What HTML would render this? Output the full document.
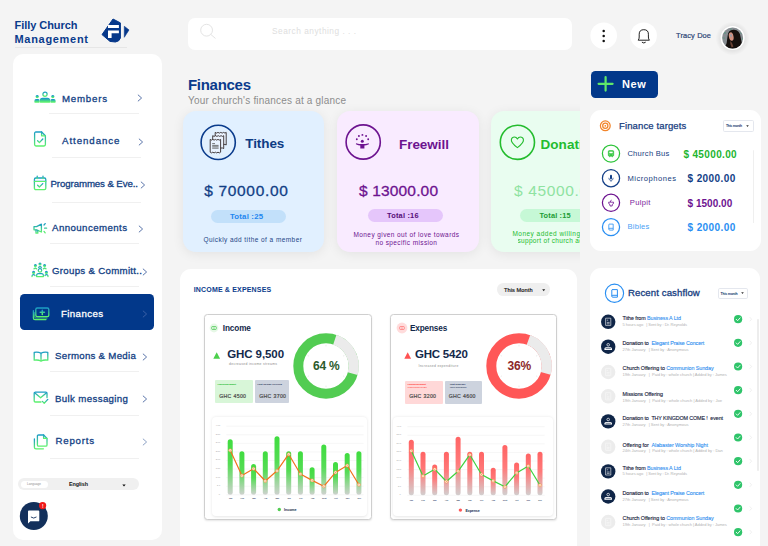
<!DOCTYPE html>
<html lang="en"><head><meta charset="utf-8"><title>Filly Church Management - Finances</title>
<style>
html,body{margin:0;padding:0}
body{width:768px;height:546px;overflow:hidden;position:relative;background:#f4f4f4;font-family:"Liberation Sans", sans-serif;}
#root{position:absolute;left:0;top:0;width:768px;height:546px;overflow:hidden}
#root span{position:absolute;white-space:nowrap;font-family:"Liberation Sans", sans-serif}
#root span span{position:static}
#root svg{position:absolute;overflow:visible}
</style></head><body><div id="root">
<svg width="0" height="0" style="left:0;top:0"><defs>
<linearGradient id="ig" x1="0" y1="0" x2="0" y2="1"><stop offset="0" stop-color="#1b9cc6"/><stop offset="1" stop-color="#5df26c"/></linearGradient>
<linearGradient id="gbar" x1="0" y1="0" x2="0" y2="1"><stop offset="0" stop-color="#3fdc3f"/><stop offset="0.45" stop-color="#55dc55"/><stop offset="1" stop-color="#cfd2cf"/></linearGradient>
<linearGradient id="rbar" x1="0" y1="0" x2="0" y2="1"><stop offset="0" stop-color="#ff6464"/><stop offset="0.45" stop-color="#ff7a7a"/><stop offset="1" stop-color="#d2cfcf"/></linearGradient>
</defs></svg>
<div style="position:absolute;left:14.5px;top:46.6px;width:112.50px;height:0.80px;background:#e6e6e6;border-radius:0px;"></div>
<svg style="left:96px;top:14px" width="40" height="32" viewBox="96 14 40 32">
<path d="M113 19 L120.4 22.9 L120.4 38 Q119.5 41.5 115.4 42 L110 41.4 L102 34.6 Z" fill="#06388a" stroke="#06388a" stroke-width="1" stroke-linejoin="round"/>
<path d="M108 25.1 H118.9 V27.9 H108 Z M108 30.5 H118.9 V33.2 H111.6 V37.9 H108 Z" fill="#fff"/>
<path d="M124.3 26.3 L129 29.9 L124.3 37.3 Z" fill="#06388a" stroke="#06388a" stroke-width="0.6" stroke-linejoin="round"/>
</svg>
<div style="position:absolute;left:13px;top:54px;width:149.00px;height:485.50px;background:#fff;border-radius:10px;"></div>
<svg style="left:34px;top:90.5px" width="22" height="12" viewBox="0 0 22 12" fill="none" stroke="url(#ig)" stroke-width="1.3" stroke-linecap="round" stroke-linejoin="round"><circle cx="11" cy="3.2" r="2.1"/><path d="M6.4 11 V9.6 Q6.4 7.4 8.6 7.4 H13.4 Q15.6 7.4 15.6 9.6 V11 Z" fill="url(#ig)"/>
<circle cx="3.2" cy="5.6" r="1" fill="url(#ig)"/><path d="M1 11 V10 Q1 8.6 2.4 8.6 H4 Q5 8.6 5 10 V11 Z" fill="url(#ig)"/>
<circle cx="18.8" cy="5.6" r="1" fill="url(#ig)"/><path d="M17 11 V10 Q17 8.6 18 8.6 H19.6 Q21 8.6 21 10 V11 Z" fill="url(#ig)"/></svg>
<svg style="left:136.5px;top:94px" width="6" height="8" viewBox="0 0 6 8"><path d="M1.2 1 L4.6 4 L1.2 7" fill="none" stroke="#4a66a0" stroke-width="0.9" stroke-linecap="round" stroke-linejoin="round"/></svg>
<div style="position:absolute;left:49px;top:112.7px;width:89.50px;height:0.70px;background:#f0f0f0;border-radius:0px;"></div>
<svg style="left:32.9px;top:131px" width="14" height="16" viewBox="0 0 14 16" fill="none" stroke="url(#ig)" stroke-width="1.3" stroke-linecap="round" stroke-linejoin="round"><path d="M1.6 2.4 Q1.6 1 3 1 H8.6 L12.4 4.8 V13.6 Q12.4 15 11 15 H3 Q1.6 15 1.6 13.6 Z"/><path d="M8.6 1 V4.8 H12.4" /><path d="M4.6 9.8 L6.4 11.6 L9.8 8"/></svg>
<svg style="left:138px;top:138px" width="6" height="8" viewBox="0 0 6 8"><path d="M1.2 1 L4.6 4 L1.2 7" fill="none" stroke="#4a66a0" stroke-width="0.9" stroke-linecap="round" stroke-linejoin="round"/></svg>
<div style="position:absolute;left:52px;top:157.3px;width:89.00px;height:0.70px;background:#f0f0f0;border-radius:0px;"></div>
<svg style="left:32.9px;top:175px" width="14" height="16" viewBox="0 0 14 16" fill="none" stroke="url(#ig)" stroke-width="1.3" stroke-linecap="round" stroke-linejoin="round"><rect x="1.4" y="3" width="11.4" height="11.6" rx="1.4"/><path d="M1.4 6.4 L12.8 6.42"/><path d="M4.2 1.2 V3.6 M10 1.2 V3.6" /><path d="M4.6 10.2 L6.4 12 L9.8 8.6"/></svg>
<svg style="left:140px;top:181px" width="6" height="8" viewBox="0 0 6 8"><path d="M1.2 1 L4.6 4 L1.2 7" fill="none" stroke="#4a66a0" stroke-width="0.9" stroke-linecap="round" stroke-linejoin="round"/></svg>
<div style="position:absolute;left:52px;top:201.7px;width:89.00px;height:0.70px;background:#f0f0f0;border-radius:0px;"></div>
<svg style="left:32.5px;top:221.5px" width="15" height="13" viewBox="0 0 15 13" fill="none" stroke="url(#ig)" stroke-width="1.3" stroke-linecap="round" stroke-linejoin="round"><path d="M1 4.6 H3.6 L8.4 2.2 V10 L3.6 7.8 H1 Z"/><path d="M3 8 V11.2 H4.8 V8.4"/><path d="M11 3 L12.2 1.6 M11.6 6.2 H13.6 M11 9.4 L12.2 10.8" /></svg>
<svg style="left:138.2px;top:224.6px" width="6" height="8" viewBox="0 0 6 8"><path d="M1.2 1 L4.6 4 L1.2 7" fill="none" stroke="#4a66a0" stroke-width="0.9" stroke-linecap="round" stroke-linejoin="round"/></svg>
<div style="position:absolute;left:49.5px;top:243.2px;width:89.50px;height:0.70px;background:#f0f0f0;border-radius:0px;"></div>
<svg style="left:31px;top:262px" width="18" height="16" viewBox="0 0 18 16" fill="none" stroke="url(#ig)" stroke-width="1.3" stroke-linecap="round" stroke-linejoin="round"><circle cx="9" cy="8.4" r="1.7"/><path d="M5.6 14.6 V13.6 Q5.6 11.6 7.6 11.6 H10.4 Q12.4 11.6 12.4 13.6 V14.6 Z"/>
<circle cx="9" cy="2" r="0.9" fill="url(#ig)"/><circle cx="4.4" cy="3.6" r="0.9" fill="url(#ig)"/><circle cx="13.6" cy="3.6" r="0.9" fill="url(#ig)"/>
<path d="M7.6 5.4 Q9 4 10.4 5.4 M3 6.8 Q4.4 5.6 5.6 6.8 M12.4 6.8 Q13.6 5.6 15 6.8"/>
<circle cx="2.6" cy="10.4" r="0.9" fill="url(#ig)"/><circle cx="15.4" cy="10.4" r="0.9" fill="url(#ig)"/><path d="M1 14.6 Q1 12.6 2.6 12.6 Q3.8 12.6 4 13.6 M17 14.6 Q17 12.6 15.4 12.6 Q14.2 12.6 14 13.6"/></svg>
<svg style="left:142.4px;top:267.5px" width="6" height="8" viewBox="0 0 6 8"><path d="M1.2 1 L4.6 4 L1.2 7" fill="none" stroke="#4a66a0" stroke-width="0.9" stroke-linecap="round" stroke-linejoin="round"/></svg>
<div style="position:absolute;left:49.5px;top:286.1px;width:89.50px;height:0.70px;background:#f0f0f0;border-radius:0px;"></div>
<div style="position:absolute;left:20px;top:294.4px;width:134.00px;height:35.40px;background:#02388a;border-radius:4.5px;"></div>
<svg style="left:32px;top:306.6px" width="18" height="15" viewBox="0 0 18 15" fill="none" stroke="url(#ig)" stroke-width="1.3" stroke-linecap="round" stroke-linejoin="round"><rect x="3.8" y="1" width="13" height="8.6" rx="1.4"/><path d="M8.2 5.3 H12.4 M10.3 3.2 V7.4" stroke-width="1.5"/><path d="M1.4 3.6 V11 Q1.4 12.6 3 12.6 H14" /><path d="M2.6 5.4 V9.8 Q2.6 11 3.8 11 H15" stroke-width="0.7"/></svg>
<svg style="left:142px;top:310.2px" width="6" height="8" viewBox="0 0 6 8"><path d="M1.2 1 L4.6 4 L1.2 7" fill="none" stroke="#3f63a8" stroke-width="0.9" stroke-linecap="round" stroke-linejoin="round"/></svg>
<svg style="left:32.5px;top:350.5px" width="16" height="11" viewBox="0 0 16 11" fill="none" stroke="url(#ig)" stroke-width="1.3" stroke-linecap="round" stroke-linejoin="round"><path d="M8 2.2 Q5 0.6 1.2 1.4 V9.2 Q5 8.6 8 10 Q11 8.6 14.8 9.2 V1.4 Q11 0.6 8 2.2 Z"/><path d="M8 2.2 L8.02 10"/></svg>
<svg style="left:142.4px;top:352.9px" width="6" height="8" viewBox="0 0 6 8"><path d="M1.2 1 L4.6 4 L1.2 7" fill="none" stroke="#4a66a0" stroke-width="0.9" stroke-linecap="round" stroke-linejoin="round"/></svg>
<div style="position:absolute;left:49.5px;top:371.2px;width:89.50px;height:0.70px;background:#f0f0f0;border-radius:0px;"></div>
<svg style="left:33px;top:391px" width="16" height="14" viewBox="0 0 16 14" fill="none" stroke="url(#ig)" stroke-width="1.3" stroke-linecap="round" stroke-linejoin="round"><path d="M8 11 H2.4 Q1.2 11 1.2 9.8 V2.4 Q1.2 1.2 2.4 1.2 H12.8 Q14 1.2 14 2.4 V6.6"/><path d="M1.6 1.8 L7.6 6.8 L13.6 1.8"/><path d="M9.4 10.4 L11.2 12.2 L14.8 8.4"/></svg>
<svg style="left:142.4px;top:395.2px" width="6" height="8" viewBox="0 0 6 8"><path d="M1.2 1 L4.6 4 L1.2 7" fill="none" stroke="#4a66a0" stroke-width="0.9" stroke-linecap="round" stroke-linejoin="round"/></svg>
<div style="position:absolute;left:49.5px;top:414.7px;width:89.50px;height:0.70px;background:#f0f0f0;border-radius:0px;"></div>
<svg style="left:33px;top:433.5px" width="16" height="16" viewBox="0 0 16 16" fill="none" stroke="url(#ig)" stroke-width="1.3" stroke-linecap="round" stroke-linejoin="round"><path d="M4.4 2.2 Q4.4 1 5.6 1 H10.6 L14 4.4 V11 Q14 12.2 12.8 12.2 H5.6 Q4.4 12.2 4.4 11 Z"/><path d="M10.6 1 V4.4 H14"/><path d="M1.4 5 V13.2 Q1.4 14.8 3 14.8 H10.4"/></svg>
<svg style="left:142.4px;top:437.9px" width="6" height="8" viewBox="0 0 6 8"><path d="M1.2 1 L4.6 4 L1.2 7" fill="none" stroke="#8096bd" stroke-width="0.9" stroke-linecap="round" stroke-linejoin="round"/></svg>
<div style="position:absolute;left:49.5px;top:457.7px;width:89.50px;height:0.70px;background:#f0f0f0;border-radius:0px;"></div>
<div style="position:absolute;left:18px;top:478px;width:121.00px;height:12.40px;background:#f0f0f0;border-radius:6.2px;"></div>
<div style="position:absolute;left:21px;top:480.5px;width:27.00px;height:7.30px;background:#ffffff;border-radius:3.7px;"></div>
<svg style="left:121.8px;top:483.6px" width="4" height="3" viewBox="0 0 4 3"><path d="M0.3 0.4 H3.7 L2 2.6 Z" fill="#111"/></svg>
<svg style="left:19px;top:501px" width="30" height="30" viewBox="19 501 30 30">
<circle cx="33.8" cy="516" r="14" fill="#13305b"/>
<path d="M28 511.4 Q28 510.5 28.9 510.5 H38.4 Q39.3 510.5 39.3 511.4 V520.4 Q39.3 521.3 38.4 521.3 H30.4 L28 523.4 Z" fill="#fff"/>
<path d="M31.2 517.2 Q33.7 519.2 36.2 517.2" fill="none" stroke="#13305b" stroke-width="0.9" stroke-linecap="round"/>
<circle cx="42.6" cy="505.6" r="3.6" fill="#f01818"/>
</svg>
<div style="position:absolute;left:187.8px;top:17.6px;width:384.50px;height:32.00px;background:#ffffff;border-radius:7px;"></div>
<svg style="left:198px;top:22px" width="20" height="20" viewBox="198 22 20 20"><circle cx="206.6" cy="30.2" r="5.9" fill="none" stroke="#e4e4e4" stroke-width="1"/><path d="M211 34.6 L215.2 38.2" stroke="#e4e4e4" stroke-width="1" stroke-linecap="round"/></svg>
<svg style="left:588px;top:20px" width="75" height="32" viewBox="588 20 75 32">
<circle cx="603.7" cy="35.7" r="13.3" fill="#fff"/><circle cx="643.6" cy="35.7" r="13.3" fill="#fff"/>
<circle cx="603.7" cy="31" r="1.25" fill="#111"/><circle cx="603.7" cy="36" r="1.25" fill="#111"/><circle cx="603.7" cy="41" r="1.25" fill="#111"/>
<path d="M638.2 40.2 Q639.2 39.2 639.2 37 V34.2 Q639.2 29.7 643.8 29.7 Q648.4 29.7 648.4 34.2 V37 Q648.4 39.2 649.4 40.2 Z" fill="none" stroke="#222" stroke-width="1" stroke-linejoin="round"/>
<path d="M642.2 42.4 Q643.8 43.8 645.4 42.4" fill="none" stroke="#222" stroke-width="1" stroke-linecap="round"/>
</svg>
<svg style="left:712px;top:18px" width="40" height="40" viewBox="712 18 40 40">
<defs><clipPath id="avc"><circle cx="732.6" cy="38" r="10.5"/></clipPath>
<radialGradient id="avs" cx="0.5" cy="0.5" r="0.5"><stop offset="0.7" stop-color="#000" stop-opacity="0.07"/><stop offset="1" stop-color="#000" stop-opacity="0"/></radialGradient></defs>
<circle cx="732.6" cy="38.4" r="17" fill="url(#avs)"/>
<circle cx="732.6" cy="38" r="12" fill="#fff"/>
<g clip-path="url(#avc)"><rect x="720" y="26" width="26" height="26" fill="#878d92"/>
<circle cx="725" cy="33" r="0.7" fill="#3f9a76"/><circle cx="724" cy="38" r="0.6" fill="#3f9a76"/><circle cx="741" cy="33" r="0.6" fill="#3f9a76"/><circle cx="742.4" cy="39" r="0.6" fill="#3f9a76"/><circle cx="731" cy="29" r="0.6" fill="#3f9a76"/>
<path d="M727.6 36 Q728.2 29.4 734 29.8 Q739.8 30.2 740.6 37 Q741.6 43 743.6 50 H724 Q727.4 43 727.6 36 Z" fill="#16100e"/>
<ellipse cx="731.2" cy="36.6" rx="2.3" ry="4.3" transform="rotate(-12 731.2 36.6)" fill="#d1907f"/>
<ellipse cx="731" cy="35.6" rx="1" ry="1.6" fill="#8aa0b4" opacity="0.7"/>
<path d="M730.2 41 Q732.4 42.4 733.4 46.6 L731.6 47.6 Q730 44 730.2 41 Z" fill="#6a4234"/></g>
</svg>
<div style="position:absolute;left:591px;top:70.7px;width:66.80px;height:27.00px;background:#02388a;border-radius:4.5px;"></div>
<svg style="left:597px;top:76px" width="17" height="16" viewBox="597 76 17 16"><path d="M598.6 83.8 H612.6 M605.6 77 V90.6" stroke="#5fe86a" stroke-width="2.2" stroke-linecap="round"/></svg>
<div style="position:absolute;left:170px;top:100px;width:410px;height:170px;overflow:hidden">
<div style="position:absolute;left:13.199999999999989px;top:11px;width:141.20px;height:141.40px;background:#e1f0ff;border-radius:13px;box-shadow:0 2px 12px rgba(0,0,0,0.075);"></div>
<div style="position:absolute;left:167px;top:11px;width:141.70px;height:141.40px;background:#f9ebff;border-radius:13px;box-shadow:0 2px 12px rgba(0,0,0,0.075);"></div>
<div style="position:absolute;left:321.3px;top:11px;width:141.70px;height:141.40px;background:#e9fdf0;border-radius:13px;box-shadow:0 2px 12px rgba(0,0,0,0.075);"></div>
<div style="position:absolute;left:40.69999999999999px;top:110px;width:75.60px;height:13.00px;background:#c2e0fa;border-radius:6.5px;"></div>
<div style="position:absolute;left:197.8px;top:109px;width:75.20px;height:13.00px;background:#e5c6fb;border-radius:6.5px;"></div>
<div style="position:absolute;left:350px;top:109px;width:76.00px;height:13.00px;background:#c6f8d6;border-radius:6.5px;"></div>
<svg style="left:0;top:0" width="410" height="170" viewBox="170 100 410 170">
<circle cx="218.2" cy="142.4" r="17.1" fill="none" stroke="#0a3b8c" stroke-width="1.6"/>
<g fill="#eaf3ff" stroke="#2a2020" stroke-width="0.85" stroke-linejoin="round">
<path d="M215.2 132.4 l1.4 .7 1.4 -.7 1.4 .7 1.4 -.7 1.4 .7 1.4 -.7 1.4 .7 1.2 -.7 V145 l-1.2 -.6 H215.2 Z"/>
<path d="M212.7 135.7 l1.4 .7 1.4 -.7 1.4 .7 1.4 -.7 1.4 .7 1.4 -.7 1.4 .7 1.2 -.7 V148.6 l-1.2 -.6 H212.7 Z"/>
<path d="M210.2 139.4 l1.3 .7 1.3 -.7 1.3 .7 1.3 -.7 1.3 .7 1.3 -.7 1.3 .7 1.3 -.7 V152.2 l-1.3 .7 -1.3 -.7 -1.3 .7 -1.3 -.7 -1.3 .7 -1.3 -.7 -1.3 .7 -1.3 -.7 Z"/>
</g>
<path d="M212.2 143.6 H215 M212.2 145.4 H218.6 M212.2 146.8 H218.6 M212.2 148.2 H218.6" stroke="#555" stroke-width="0.8"/>
<circle cx="363.2" cy="142" r="17.1" fill="none" stroke="#6d1390" stroke-width="1.6"/>
<g fill="#6d1390"><circle cx="362.3" cy="141.2" r="1.5"/><path d="M356 143.2 Q362.3 145 368.8 143.2 L368.9 144.2 Q366 145.4 364.4 145.6 V148.6 H360.3 V145.6 Q358.6 145.4 355.9 144.2 Z"/>
<circle cx="356.8" cy="139.2" r="0.95"/><circle cx="358.9" cy="136" r="0.95"/><circle cx="362.4" cy="134.9" r="0.95"/><circle cx="366.1" cy="136" r="0.95"/><circle cx="368.2" cy="139.2" r="0.95"/></g>
<circle cx="517.4" cy="142.3" r="17.1" fill="none" stroke="#24bc2e" stroke-width="1.6"/>
<path d="M517.4 147.6 Q510.6 142.6 511.4 139.4 Q512 137 514.4 137 Q516.4 137 517.4 139 Q518.4 137 520.4 137 Q522.8 137 523.4 139.4 Q524.2 142.6 517.4 147.6 Z" fill="none" stroke="#24bc2e" stroke-width="1.1" stroke-linejoin="round"/>
</svg>
</div>
<div style="position:absolute;left:590.2px;top:110.2px;width:170.50px;height:141.20px;background:#ffffff;border-radius:11px;"></div>
<svg style="left:598px;top:118px" width="16" height="16" viewBox="598 118 16 16"><g fill="none" stroke="#f2852a" stroke-width="1.25"><circle cx="605.3" cy="125.8" r="4.9"/><circle cx="605.3" cy="125.8" r="2.6"/></g><circle cx="605.3" cy="125.8" r="0.9" fill="#f2852a"/></svg>
<div style="position:absolute;left:723.4px;top:120.4px;width:28.6px;height:9.2px;border:0.6px solid #e4e7ee;border-radius:1.6px;background:#fff"></div>
<svg style="left:746px;top:124.6px" width="3" height="2.4" viewBox="0 0 3 2.4"><path d="M0.2 0.3 H2.8 L1.5 2.1 Z" fill="#333"/></svg>
<div style="position:absolute;left:753px;top:150px;width:1.20px;height:73.00px;background:#efefef;border-radius:0.6px;"></div>
<svg style="left:590px;top:110px" width="60" height="142" viewBox="590 110 60 142"><circle cx="611" cy="153.6" r="8.6" fill="none" stroke="#2ec43a" stroke-width="1.25"/><rect x="608.3" y="150.6" width="5.4" height="5.6" rx="1" fill="#2ec43a" stroke="#2ec43a" stroke-width="0.6"/><rect x="609.3" y="151.6" width="3.4" height="1.7" fill="#fff"/><path d="M609.4 154.9 H610.2 M611.8 154.9 H612.6" stroke="#fff" stroke-width="0.7"/><path d="M609.6 156.2 V157.2 M612.4 156.2 V157.2" stroke="#2ec43a" stroke-width="0.8"/><circle cx="611" cy="178.2" r="8.6" fill="none" stroke="#123e86" stroke-width="1.25"/><rect x="610" y="174.79999999999998" width="2" height="4.4" rx="1" fill="#123e86"/><path d="M608.8 177.79999999999998 Q608.8 180.39999999999998 611 180.39999999999998 Q613.2 180.39999999999998 613.2 177.79999999999998 M611 180.39999999999998 V181.79999999999998" fill="none" stroke="#123e86" stroke-width="0.7"/><circle cx="611" cy="202.8" r="8.6" fill="none" stroke="#6d1390" stroke-width="1.25"/><path d="M608.6 202.20000000000002 H613.6 Q613.6 204.4 612.2 204.60000000000002 V206.0 H610 V204.60000000000002 Q608.6 204.4 608.6 202.20000000000002 Z" fill="none" stroke="#6d1390" stroke-width="0.8" stroke-linejoin="round"/><path d="M610.2 202.0 L611.4 199.8" stroke="#6d1390" stroke-width="0.8"/><circle cx="611" cy="227.1" r="8.6" fill="none" stroke="#2a8ff2" stroke-width="1.25"/><path d="M609 224.1 H613.2 V230.1 H609.8 Q608.8 230.1 608.8 229.1 V224.29999999999998 M608.8 229.1 Q608.8 228.29999999999998 609.8 228.29999999999998 H613.2" fill="none" stroke="#2a8ff2" stroke-width="0.8" stroke-linejoin="round"/></svg>
<div style="position:absolute;left:180px;top:268.8px;width:397.00px;height:291.20px;background:#ffffff;border-radius:11px;"></div>
<div style="position:absolute;left:497.3px;top:283.4px;width:52.70px;height:12.90px;background:#efefef;border-radius:6.4px;"></div>
<svg style="left:541.6px;top:289px" width="3.4" height="2.6" viewBox="0 0 3.4 2.6"><path d="M0.2 0.3 H3.2 L1.7 2.3 Z" fill="#222"/></svg>
<div style="position:absolute;left:204.4px;top:314.4px;width:165.30px;height:203.6px;border:0.8px solid #cfcfcf;border-radius:3.5px;background:#fff;box-shadow:0 1px 2px rgba(0,0,0,0.10)"></div>
<svg style="left:207.8px;top:321.6px" width="12" height="12" viewBox="0 0 12 12"><circle cx="6" cy="6" r="4.4" fill="#e6f8e6"/><rect x="3.7" y="4.5" width="4.6" height="3" rx="0.8" fill="none" stroke="#24bc2e" stroke-width="0.6"/><circle cx="6" cy="6" r="0.6" fill="#24bc2e"/></svg>
<svg style="left:213.3px;top:351.6px" width="7.4" height="7" viewBox="0 0 7.4 7"><path d="M3.7 0.3 L7.1 6.7 H0.3 Z" fill="#4cd04c"/></svg>
<div style="position:absolute;left:215px;top:380.4px;width:37.80px;height:22.60px;background:#d8f6d8;border-radius:1px;"></div>
<div style="position:absolute;left:255px;top:380.4px;width:33.80px;height:22.60px;background:#cdd3de;border-radius:1px;"></div>
<svg style="left:290.2px;top:329.6px" width="72" height="72" viewBox="290.2 329.6 72 72"><circle cx="326.2" cy="365.6" r="27.7" fill="none" stroke="#52cc52" stroke-width="10"/><path d="M334.99 339.33 A27.7 27.7 0 0 1 352.83 373.24" fill="none" stroke="#ebebeb" stroke-width="10.4"/><path d="M326.20 346.00 L326.20 344.40" stroke="#dedede" stroke-width="0.6"/><path d="M343.17 355.80 L344.56 355.00" stroke="#dedede" stroke-width="0.6"/><path d="M343.17 375.40 L344.56 376.20" stroke="#dedede" stroke-width="0.6"/><path d="M326.20 385.20 L326.20 386.80" stroke="#dedede" stroke-width="0.6"/><path d="M309.23 375.40 L307.84 376.20" stroke="#dedede" stroke-width="0.6"/><path d="M309.23 355.80 L307.84 355.00" stroke="#dedede" stroke-width="0.6"/></svg>
<div style="position:absolute;left:212.4px;top:416.6px;width:154.99999999999997px;height:99.4px;border-radius:4px;background:#fff;box-shadow:0 0.5px 3px rgba(0,0,0,0.10)"></div>
<svg style="left:204.4px;top:416px" width="167" height="102" viewBox="204.4 416 167 102"><path d="M226.70000000000002 426.20 H364.0" stroke="#ececec" stroke-width="0.5"/><path d="M226.70000000000002 434.77 H364.0" stroke="#ececec" stroke-width="0.5"/><path d="M226.70000000000002 443.35 H364.0" stroke="#ececec" stroke-width="0.5"/><path d="M226.70000000000002 451.93 H364.0" stroke="#ececec" stroke-width="0.5"/><path d="M226.70000000000002 460.50 H364.0" stroke="#ececec" stroke-width="0.5"/><path d="M226.70000000000002 469.07 H364.0" stroke="#ececec" stroke-width="0.5"/><path d="M226.70000000000002 477.65 H364.0" stroke="#ececec" stroke-width="0.5"/><path d="M226.70000000000002 486.23 H364.0" stroke="#ececec" stroke-width="0.5"/><path d="M226.70000000000002 494.80 H364.0" stroke="#ececec" stroke-width="0.5"/><rect x="228.10" y="439.20" width="5" height="55.60" rx="2.5" fill="url(#gbar)"/><rect x="239.80" y="451.30" width="5" height="43.50" rx="2.5" fill="url(#gbar)"/><rect x="251.50" y="464.10" width="5" height="30.70" rx="2.5" fill="url(#gbar)"/><rect x="263.20" y="451.30" width="5" height="43.50" rx="2.5" fill="url(#gbar)"/><rect x="274.90" y="436.20" width="5" height="58.60" rx="2.5" fill="url(#gbar)"/><rect x="286.60" y="451.30" width="5" height="43.50" rx="2.5" fill="url(#gbar)"/><rect x="298.30" y="451.30" width="5" height="43.50" rx="2.5" fill="url(#gbar)"/><rect x="310.00" y="467.30" width="5" height="27.50" rx="2.5" fill="url(#gbar)"/><rect x="321.70" y="444.40" width="5" height="50.40" rx="2.5" fill="url(#gbar)"/><rect x="333.40" y="462.00" width="5" height="32.80" rx="2.5" fill="url(#gbar)"/><rect x="345.10" y="452.90" width="5" height="41.90" rx="2.5" fill="url(#gbar)"/><rect x="356.80" y="451.30" width="5" height="43.50" rx="2.5" fill="url(#gbar)"/><polyline points="230.60,450.30 242.30,475.60 254.00,468.70 265.70,481.00 277.40,470.80 289.10,454.20 300.80,474.00 312.50,480.40 324.20,486.30 335.90,472.40 347.60,465.50 359.30,484.70" fill="none" stroke="#f2711c" stroke-width="1.2" stroke-linejoin="round"/><circle cx="230.60" cy="450.30" r="1.55" fill="#fff3e6" stroke="#f28a3c" stroke-width="0.55"/><circle cx="230.60" cy="450.30" r="0.5" fill="#f28a3c"/><circle cx="242.30" cy="475.60" r="1.55" fill="#fff3e6" stroke="#f28a3c" stroke-width="0.55"/><circle cx="242.30" cy="475.60" r="0.5" fill="#f28a3c"/><circle cx="254.00" cy="468.70" r="1.55" fill="#fff3e6" stroke="#f28a3c" stroke-width="0.55"/><circle cx="254.00" cy="468.70" r="0.5" fill="#f28a3c"/><circle cx="265.70" cy="481.00" r="1.55" fill="#fff3e6" stroke="#f28a3c" stroke-width="0.55"/><circle cx="265.70" cy="481.00" r="0.5" fill="#f28a3c"/><circle cx="277.40" cy="470.80" r="1.55" fill="#fff3e6" stroke="#f28a3c" stroke-width="0.55"/><circle cx="277.40" cy="470.80" r="0.5" fill="#f28a3c"/><circle cx="289.10" cy="454.20" r="1.55" fill="#fff3e6" stroke="#f28a3c" stroke-width="0.55"/><circle cx="289.10" cy="454.20" r="0.5" fill="#f28a3c"/><circle cx="300.80" cy="474.00" r="1.55" fill="#fff3e6" stroke="#f28a3c" stroke-width="0.55"/><circle cx="300.80" cy="474.00" r="0.5" fill="#f28a3c"/><circle cx="312.50" cy="480.40" r="1.55" fill="#fff3e6" stroke="#f28a3c" stroke-width="0.55"/><circle cx="312.50" cy="480.40" r="0.5" fill="#f28a3c"/><circle cx="324.20" cy="486.30" r="1.55" fill="#fff3e6" stroke="#f28a3c" stroke-width="0.55"/><circle cx="324.20" cy="486.30" r="0.5" fill="#f28a3c"/><circle cx="335.90" cy="472.40" r="1.55" fill="#fff3e6" stroke="#f28a3c" stroke-width="0.55"/><circle cx="335.90" cy="472.40" r="0.5" fill="#f28a3c"/><circle cx="347.60" cy="465.50" r="1.55" fill="#fff3e6" stroke="#f28a3c" stroke-width="0.55"/><circle cx="347.60" cy="465.50" r="0.5" fill="#f28a3c"/><circle cx="359.30" cy="484.70" r="1.55" fill="#fff3e6" stroke="#f28a3c" stroke-width="0.55"/><circle cx="359.30" cy="484.70" r="0.5" fill="#f28a3c"/><circle cx="279.7" cy="509.5" r="1.7" fill="#52cc52"/></svg>
<div style="position:absolute;left:390.1px;top:314.4px;width:165.30px;height:203.6px;border:0.8px solid #cfcfcf;border-radius:3.5px;background:#fff;box-shadow:0 1px 2px rgba(0,0,0,0.10)"></div>
<svg style="left:395.8px;top:321.6px" width="12" height="12" viewBox="0 0 12 12"><circle cx="6" cy="6" r="5.4" fill="#ffdcdc"/><rect x="3.7" y="4.5" width="4.6" height="3" rx="0.8" fill="none" stroke="#ff5a5a" stroke-width="0.6"/><circle cx="6" cy="6" r="0.6" fill="#ff5a5a"/></svg>
<svg style="left:403.7px;top:351.6px" width="7.4" height="7" viewBox="0 0 7.4 7"><path d="M3.7 0.3 L7.1 6.7 H0.3 Z" fill="#ff5252"/></svg>
<div style="position:absolute;left:405px;top:381px;width:37.60px;height:22.60px;background:#ffd8d8;border-radius:1px;"></div>
<div style="position:absolute;left:444.5px;top:381px;width:37.20px;height:22.60px;background:#cdd3de;border-radius:1px;"></div>
<svg style="left:483.20000000000005px;top:329.6px" width="72" height="72" viewBox="483.20000000000005 329.6 72 72"><circle cx="519.2" cy="365.6" r="27.7" fill="none" stroke="#ff5757" stroke-width="10"/><path d="M528.67 339.57 A27.7 27.7 0 0 1 545.89 373.00" fill="none" stroke="#ebebeb" stroke-width="10.4"/><path d="M519.20 346.00 L519.20 344.40" stroke="#dedede" stroke-width="0.6"/><path d="M536.17 355.80 L537.56 355.00" stroke="#dedede" stroke-width="0.6"/><path d="M536.17 375.40 L537.56 376.20" stroke="#dedede" stroke-width="0.6"/><path d="M519.20 385.20 L519.20 386.80" stroke="#dedede" stroke-width="0.6"/><path d="M502.23 375.40 L500.84 376.20" stroke="#dedede" stroke-width="0.6"/><path d="M502.23 355.80 L500.84 355.00" stroke="#dedede" stroke-width="0.6"/></svg>
<div style="position:absolute;left:392.90000000000003px;top:416.6px;width:160.00000000000006px;height:99.4px;border-radius:4px;background:#fff;box-shadow:0 0.5px 3px rgba(0,0,0,0.10)"></div>
<svg style="left:390.1px;top:416px" width="167" height="102" viewBox="390.1 416 167 102"><path d="M407.50000000000006 426.70 H544.8000000000001" stroke="#ececec" stroke-width="0.5"/><path d="M407.50000000000006 435.27 H544.8000000000001" stroke="#ececec" stroke-width="0.5"/><path d="M407.50000000000006 443.85 H544.8000000000001" stroke="#ececec" stroke-width="0.5"/><path d="M407.50000000000006 452.43 H544.8000000000001" stroke="#ececec" stroke-width="0.5"/><path d="M407.50000000000006 461.00 H544.8000000000001" stroke="#ececec" stroke-width="0.5"/><path d="M407.50000000000006 469.57 H544.8000000000001" stroke="#ececec" stroke-width="0.5"/><path d="M407.50000000000006 478.15 H544.8000000000001" stroke="#ececec" stroke-width="0.5"/><path d="M407.50000000000006 486.73 H544.8000000000001" stroke="#ececec" stroke-width="0.5"/><path d="M407.50000000000006 495.30 H544.8000000000001" stroke="#ececec" stroke-width="0.5"/><rect x="408.90" y="439.70" width="5" height="55.60" rx="2.5" fill="url(#rbar)"/><rect x="420.60" y="451.80" width="5" height="43.50" rx="2.5" fill="url(#rbar)"/><rect x="432.30" y="464.60" width="5" height="30.70" rx="2.5" fill="url(#rbar)"/><rect x="444.00" y="451.80" width="5" height="43.50" rx="2.5" fill="url(#rbar)"/><rect x="455.70" y="436.70" width="5" height="58.60" rx="2.5" fill="url(#rbar)"/><rect x="467.40" y="451.80" width="5" height="43.50" rx="2.5" fill="url(#rbar)"/><rect x="479.10" y="451.80" width="5" height="43.50" rx="2.5" fill="url(#rbar)"/><rect x="490.80" y="467.80" width="5" height="27.50" rx="2.5" fill="url(#rbar)"/><rect x="502.50" y="444.90" width="5" height="50.40" rx="2.5" fill="url(#rbar)"/><rect x="514.20" y="462.50" width="5" height="32.80" rx="2.5" fill="url(#rbar)"/><rect x="525.90" y="453.40" width="5" height="41.90" rx="2.5" fill="url(#rbar)"/><rect x="537.60" y="451.80" width="5" height="43.50" rx="2.5" fill="url(#rbar)"/><polyline points="411.40,450.80 423.10,476.10 434.80,469.20 446.50,481.50 458.20,471.30 469.90,454.70 481.60,474.50 493.30,480.90 505.00,486.80 516.70,472.90 528.40,466.00 540.10,485.20" fill="none" stroke="#3fd23f" stroke-width="1.2" stroke-linejoin="round"/><circle cx="411.40" cy="450.80" r="1.55" fill="#fff3e6" stroke="#f28a3c" stroke-width="0.55"/><circle cx="411.40" cy="450.80" r="0.5" fill="#f28a3c"/><circle cx="423.10" cy="476.10" r="1.55" fill="#fff3e6" stroke="#f28a3c" stroke-width="0.55"/><circle cx="423.10" cy="476.10" r="0.5" fill="#f28a3c"/><circle cx="434.80" cy="469.20" r="1.55" fill="#fff3e6" stroke="#f28a3c" stroke-width="0.55"/><circle cx="434.80" cy="469.20" r="0.5" fill="#f28a3c"/><circle cx="446.50" cy="481.50" r="1.55" fill="#fff3e6" stroke="#f28a3c" stroke-width="0.55"/><circle cx="446.50" cy="481.50" r="0.5" fill="#f28a3c"/><circle cx="458.20" cy="471.30" r="1.55" fill="#fff3e6" stroke="#f28a3c" stroke-width="0.55"/><circle cx="458.20" cy="471.30" r="0.5" fill="#f28a3c"/><circle cx="469.90" cy="454.70" r="1.55" fill="#fff3e6" stroke="#f28a3c" stroke-width="0.55"/><circle cx="469.90" cy="454.70" r="0.5" fill="#f28a3c"/><circle cx="481.60" cy="474.50" r="1.55" fill="#fff3e6" stroke="#f28a3c" stroke-width="0.55"/><circle cx="481.60" cy="474.50" r="0.5" fill="#f28a3c"/><circle cx="493.30" cy="480.90" r="1.55" fill="#fff3e6" stroke="#f28a3c" stroke-width="0.55"/><circle cx="493.30" cy="480.90" r="0.5" fill="#f28a3c"/><circle cx="505.00" cy="486.80" r="1.55" fill="#fff3e6" stroke="#f28a3c" stroke-width="0.55"/><circle cx="505.00" cy="486.80" r="0.5" fill="#f28a3c"/><circle cx="516.70" cy="472.90" r="1.55" fill="#fff3e6" stroke="#f28a3c" stroke-width="0.55"/><circle cx="516.70" cy="472.90" r="0.5" fill="#f28a3c"/><circle cx="528.40" cy="466.00" r="1.55" fill="#fff3e6" stroke="#f28a3c" stroke-width="0.55"/><circle cx="528.40" cy="466.00" r="0.5" fill="#f28a3c"/><circle cx="540.10" cy="485.20" r="1.55" fill="#fff3e6" stroke="#f28a3c" stroke-width="0.55"/><circle cx="540.10" cy="485.20" r="0.5" fill="#f28a3c"/><circle cx="460.5" cy="510.1" r="1.7" fill="#ff5757"/></svg>
<div style="position:absolute;left:590.3px;top:268.2px;width:170.00px;height:291.80px;background:#ffffff;border-radius:11px;"></div>
<svg style="left:603px;top:282px" width="24" height="24" viewBox="603 282 24 24"><circle cx="614.5" cy="293.3" r="9.1" fill="none" stroke="#2a8ff2" stroke-width="1.15"/>
<path d="M612 289.6 H617.4 V297.2 H612.8 Q611.8 297.2 611.8 296.2 V289.8 M611.8 296.2 Q611.8 295.3 612.8 295.3 H617.4" fill="none" stroke="#2a8ff2" stroke-width="1" stroke-linejoin="round"/></svg>
<div style="position:absolute;left:717.6px;top:287.6px;width:28.6px;height:9.6px;border:0.6px solid #e4e7ee;border-radius:1.8px;background:#fff"></div>
<svg style="left:741.2px;top:292.2px" width="3" height="2.4" viewBox="0 0 3 2.4"><path d="M0.2 0.3 H2.8 L1.5 2.1 Z" fill="#333"/></svg>
<div style="position:absolute;left:756.8px;top:318.5px;width:1.80px;height:152.50px;background:#ededed;border-radius:0.9px;"></div>
<svg style="left:598px;top:310px" width="160" height="236" viewBox="598 310 160 236"><circle cx="608.2" cy="321.8" r="7.2" fill="#0f2547"/><path d="M605.6 318.2 H610.8 V325.40000000000003 H605.6 Z M606.8 322.40000000000003 H609.6 M606.8 323.8 H609.6 M606.8 320.2 H608.2" fill="none" stroke="#ffffff" stroke-width="0.6" stroke-linejoin="round"/><circle cx="608.2" cy="346.7" r="7.2" fill="#0f2547"/><circle cx="608.2" cy="344.8" r="1.3" fill="none" stroke="#ffffff" stroke-width="0.7"/><path d="M604.4 349.9 V348.9 Q604.4 347.3 606 347.3 H610.4 Q612 347.3 612 348.9 V349.9 Z" fill="#ffffff"/><path d="M605.6 348.59999999999997 H610.8" stroke="#0f2547" stroke-width="0.6"/><circle cx="608.2" cy="372.0" r="7.2" fill="#ececec"/><path d="M605.6 368.4 H610.8 V375.6 H605.6 Z M606.8 372.6 H609.6 M606.8 374.0 H609.6 M606.8 370.4 H608.2" fill="none" stroke="#f8f8f8" stroke-width="0.6" stroke-linejoin="round"/><circle cx="608.2" cy="396.3" r="7.2" fill="#ececec"/><path d="M605.6 392.7 H610.8 V399.90000000000003 H605.6 Z M606.8 396.90000000000003 H609.6 M606.8 398.3 H609.6 M606.8 394.7 H608.2" fill="none" stroke="#f8f8f8" stroke-width="0.6" stroke-linejoin="round"/><circle cx="608.2" cy="421.4" r="7.2" fill="#0f2547"/><circle cx="608.2" cy="419.5" r="1.3" fill="none" stroke="#ffffff" stroke-width="0.7"/><path d="M604.4 424.59999999999997 V423.59999999999997 Q604.4 422.0 606 422.0 H610.4 Q612 422.0 612 423.59999999999997 V424.59999999999997 Z" fill="#ffffff"/><path d="M605.6 423.29999999999995 H610.8" stroke="#0f2547" stroke-width="0.6"/><circle cx="608.2" cy="446.8" r="7.2" fill="#ececec"/><path d="M605.6 443.2 H610.8 V450.40000000000003 H605.6 Z M606.8 447.40000000000003 H609.6 M606.8 448.8 H609.6 M606.8 445.2 H608.2" fill="none" stroke="#f8f8f8" stroke-width="0.6" stroke-linejoin="round"/><circle cx="608.2" cy="471.4" r="7.2" fill="#0f2547"/><path d="M605.6 467.79999999999995 H610.8 V475.0 H605.6 Z M606.8 472.0 H609.6 M606.8 473.4 H609.6 M606.8 469.79999999999995 H608.2" fill="none" stroke="#ffffff" stroke-width="0.6" stroke-linejoin="round"/><circle cx="608.2" cy="496.5" r="7.2" fill="#0f2547"/><circle cx="608.2" cy="494.6" r="1.3" fill="none" stroke="#ffffff" stroke-width="0.7"/><path d="M604.4 499.7 V498.7 Q604.4 497.1 606 497.1 H610.4 Q612 497.1 612 498.7 V499.7 Z" fill="#ffffff"/><path d="M605.6 498.4 H610.8" stroke="#0f2547" stroke-width="0.6"/><circle cx="608.2" cy="522.0" r="7.2" fill="#ececec"/><path d="M605.6 518.4 H610.8 V525.6 H605.6 Z M606.8 522.6 H609.6 M606.8 524.0 H609.6 M606.8 520.4 H608.2" fill="none" stroke="#f8f8f8" stroke-width="0.6" stroke-linejoin="round"/><circle cx="738.1" cy="319.20" r="4.1" fill="#2fc46a"/><path d="M736.2 319.30 L737.6 320.70 L740.1 317.90" fill="none" stroke="#fff" stroke-width="0.9" stroke-linecap="round" stroke-linejoin="round"/><path d="M750 317.40 L751.6 319.20 L750 321.00" fill="none" stroke="#e6e6e6" stroke-width="0.6" stroke-linecap="round"/><circle cx="738.1" cy="342.86" r="4.1" fill="#2fc46a"/><path d="M736.2 342.96 L737.6 344.36 L740.1 341.56" fill="none" stroke="#fff" stroke-width="0.9" stroke-linecap="round" stroke-linejoin="round"/><path d="M750 341.06 L751.6 342.86 L750 344.66" fill="none" stroke="#e6e6e6" stroke-width="0.6" stroke-linecap="round"/><circle cx="738.1" cy="366.52" r="4.1" fill="#2fc46a"/><path d="M736.2 366.62 L737.6 368.02 L740.1 365.22" fill="none" stroke="#fff" stroke-width="0.9" stroke-linecap="round" stroke-linejoin="round"/><path d="M750 364.72 L751.6 366.52 L750 368.32" fill="none" stroke="#e6e6e6" stroke-width="0.6" stroke-linecap="round"/><circle cx="738.1" cy="390.18" r="4.1" fill="#2fc46a"/><path d="M736.2 390.28 L737.6 391.68 L740.1 388.88" fill="none" stroke="#fff" stroke-width="0.9" stroke-linecap="round" stroke-linejoin="round"/><path d="M750 388.38 L751.6 390.18 L750 391.98" fill="none" stroke="#e6e6e6" stroke-width="0.6" stroke-linecap="round"/><circle cx="738.1" cy="413.84" r="4.1" fill="#2fc46a"/><path d="M736.2 413.94 L737.6 415.34 L740.1 412.54" fill="none" stroke="#fff" stroke-width="0.9" stroke-linecap="round" stroke-linejoin="round"/><path d="M750 412.04 L751.6 413.84 L750 415.64" fill="none" stroke="#e6e6e6" stroke-width="0.6" stroke-linecap="round"/><circle cx="738.1" cy="437.50" r="4.1" fill="#2fc46a"/><path d="M736.2 437.60 L737.6 439.00 L740.1 436.20" fill="none" stroke="#fff" stroke-width="0.9" stroke-linecap="round" stroke-linejoin="round"/><path d="M750 435.70 L751.6 437.50 L750 439.30" fill="none" stroke="#e6e6e6" stroke-width="0.6" stroke-linecap="round"/><circle cx="738.1" cy="461.16" r="4.1" fill="#2fc46a"/><path d="M736.2 461.26 L737.6 462.66 L740.1 459.86" fill="none" stroke="#fff" stroke-width="0.9" stroke-linecap="round" stroke-linejoin="round"/><path d="M750 459.36 L751.6 461.16 L750 462.96" fill="none" stroke="#e6e6e6" stroke-width="0.6" stroke-linecap="round"/><circle cx="738.1" cy="484.82" r="4.1" fill="#2fc46a"/><path d="M736.2 484.92 L737.6 486.32 L740.1 483.52" fill="none" stroke="#fff" stroke-width="0.9" stroke-linecap="round" stroke-linejoin="round"/><path d="M750 483.02 L751.6 484.82 L750 486.62" fill="none" stroke="#e6e6e6" stroke-width="0.6" stroke-linecap="round"/><circle cx="738.1" cy="508.48" r="4.1" fill="#2fc46a"/><path d="M736.2 508.58 L737.6 509.98 L740.1 507.18" fill="none" stroke="#fff" stroke-width="0.9" stroke-linecap="round" stroke-linejoin="round"/><path d="M750 506.68 L751.6 508.48 L750 510.28" fill="none" stroke="#e6e6e6" stroke-width="0.6" stroke-linecap="round"/><circle cx="738.1" cy="532.14" r="4.1" fill="#2fc46a"/><path d="M736.2 532.24 L737.6 533.64 L740.1 530.84" fill="none" stroke="#fff" stroke-width="0.9" stroke-linecap="round" stroke-linejoin="round"/><path d="M750 530.34 L751.6 532.14 L750 533.94" fill="none" stroke="#e6e6e6" stroke-width="0.6" stroke-linecap="round"/></svg>
<span style="left:14.50px;top:17.58px;font-size:11px;line-height:14.3px;font-weight:700;color:#0a3b8c;letter-spacing:-0.051px;">Filly Church</span>
<span style="left:14.50px;top:31.65px;font-size:11px;line-height:14.3px;font-weight:700;color:#0a3b8c;letter-spacing:0.694px;">Management</span>
<span style="left:62.00px;top:92.50px;font-size:9.7px;line-height:12.61px;font-weight:400;color:#133f84;letter-spacing:0.771px;-webkit-text-stroke:0.3px #133f84;">Members</span>
<span style="left:62.00px;top:134.79px;font-size:9.7px;line-height:12.61px;font-weight:400;color:#133f84;letter-spacing:0.943px;-webkit-text-stroke:0.3px #133f84;">Attendance</span>
<span style="left:50.50px;top:178.19px;font-size:9.7px;line-height:12.61px;font-weight:400;color:#133f84;letter-spacing:-0.110px;-webkit-text-stroke:0.3px #133f84;">Programmes &amp; Eve..</span>
<span style="left:52.00px;top:221.79px;font-size:9.7px;line-height:12.61px;font-weight:400;color:#133f84;letter-spacing:0.415px;-webkit-text-stroke:0.3px #133f84;">Announcements</span>
<span style="left:52.00px;top:264.69px;font-size:9.7px;line-height:12.61px;font-weight:400;color:#133f84;letter-spacing:0.290px;-webkit-text-stroke:0.3px #133f84;">Groups &amp; Committ..</span>
<span style="left:61.00px;top:307.52px;font-size:9.7px;line-height:12.61px;font-weight:400;color:#ffffff;letter-spacing:0.384px;-webkit-text-stroke:0.3px #fff;">Finances</span>
<span style="left:55.00px;top:350.09px;font-size:9.7px;line-height:12.61px;font-weight:400;color:#133f84;letter-spacing:0.271px;-webkit-text-stroke:0.3px #133f84;">Sermons &amp; Media</span>
<span style="left:55.00px;top:392.52px;font-size:9.7px;line-height:12.61px;font-weight:400;color:#133f84;letter-spacing:0.355px;-webkit-text-stroke:0.3px #133f84;">Bulk messaging</span>
<span style="left:55.60px;top:435.09px;font-size:9.7px;line-height:12.61px;font-weight:400;color:#133f84;letter-spacing:0.746px;-webkit-text-stroke:0.3px #133f84;">Reports</span>
<span style="left:27.00px;top:482.57px;font-size:3px;line-height:3.9px;font-weight:400;color:#8a8a8a;letter-spacing:0.092px;">Language</span>
<span style="left:69.00px;top:480.69px;font-size:5.4px;line-height:7.02px;font-weight:700;color:#111;letter-spacing:-0.078px;">English</span>
<span style="left:42.00px;top:503.58px;font-size:4.6px;line-height:5.98px;font-weight:700;color:#fff;letter-spacing:-0.131px;">!</span>
<span style="left:272.00px;top:25.91px;font-size:8.3px;line-height:10.79px;font-weight:400;color:#dedede;letter-spacing:0.510px;">Search anything . . .</span>
<span style="left:676.00px;top:30.52px;font-size:7.4px;line-height:9.62px;font-weight:400;color:#2c4474;letter-spacing:0.146px;-webkit-text-stroke:0.2px #2c4474;">Tracy Doe</span>
<span style="left:188.00px;top:74.85px;font-size:15px;line-height:19.5px;font-weight:700;color:#0a3b8c;letter-spacing:-0.290px;">Finances</span>
<span style="left:188.00px;top:93.55px;font-size:10px;line-height:13.0px;font-weight:400;color:#8c8c8c;letter-spacing:0.193px;">Your church&#x27;s finances at a glance</span>
<span style="left:622.00px;top:76.65px;font-size:11px;line-height:14.3px;font-weight:700;color:#ffffff;letter-spacing:0.538px;">New</span>
<span style="left:245.30px;top:135.12px;font-size:13.5px;line-height:17.55px;font-weight:700;color:#0d3c85;letter-spacing:-0.103px;">Tithes</span>
<span style="left:204.30px;top:180.93px;font-size:15.5px;line-height:20.15px;font-weight:400;color:#123f86;letter-spacing:0.658px;-webkit-text-stroke:0.3px #123f86;">$ 70000.00</span>
<span style="left:230.00px;top:211.73px;font-size:7.8px;line-height:10.14px;font-weight:700;color:#1e86f0;letter-spacing:0.189px;">Total :25</span>
<span style="left:203.40px;top:235.55px;font-size:6.5px;line-height:8.45px;font-weight:400;color:#1d4486;letter-spacing:0.434px;">Quickly add tithe of a member</span>
<span style="left:399.00px;top:135.55px;font-size:13.5px;line-height:17.55px;font-weight:700;color:#6d1390;letter-spacing:-0.054px;">Freewill</span>
<span style="left:359.00px;top:180.93px;font-size:15.5px;line-height:20.15px;font-weight:400;color:#6d1390;letter-spacing:0.158px;-webkit-text-stroke:0.3px #6d1390;">$ 13000.00</span>
<span style="left:387.00px;top:210.99px;font-size:7.4px;line-height:9.62px;font-weight:700;color:#560d78;letter-spacing:0.207px;">Total :16</span>
<span style="left:353.50px;top:230.50px;font-size:6.5px;line-height:8.45px;font-weight:400;color:#6d1390;letter-spacing:0.409px;">Money given out of love towards</span>
<span style="left:375.50px;top:238.58px;font-size:6.5px;line-height:8.45px;font-weight:400;color:#6d1390;letter-spacing:0.385px;">no specific mission</span>
<span style="left:540.50px;top:135.55px;font-size:13.5px;line-height:17.55px;font-weight:700;color:#24bc2e;letter-spacing:0.062px;max-width:39.5px;overflow:hidden;">Donations</span>
<span style="left:513.90px;top:180.93px;font-size:15.5px;line-height:20.15px;font-weight:400;color:#8fe3a1;letter-spacing:0.669px;max-width:66.1px;overflow:hidden;">$ 45000.00</span>
<span style="left:539.50px;top:210.99px;font-size:7.4px;line-height:9.62px;font-weight:700;color:#1c9c35;letter-spacing:0.145px;">Total :15</span>
<span style="left:512.40px;top:229.60px;font-size:6.5px;line-height:8.45px;font-weight:400;color:#24bc2e;letter-spacing:0.484px;max-width:67.6px;overflow:hidden;">Money added willingly in</span>
<span style="left:517.50px;top:236.50px;font-size:6.5px;line-height:8.45px;font-weight:400;color:#24bc2e;letter-spacing:0.317px;max-width:62.5px;overflow:hidden;">support of church activities</span>
<span style="left:619.00px;top:119.83px;font-size:9.5px;line-height:12.35px;font-weight:400;color:#163d80;letter-spacing:0.130px;-webkit-text-stroke:0.25px #163d80;">Finance targets</span>
<span style="left:726.00px;top:123.52px;font-size:3.4px;line-height:4.42px;font-weight:700;color:#1b3a70;letter-spacing:-0.253px;">This month</span>
<span style="left:627.40px;top:148.56px;font-size:7.6px;line-height:9.88px;font-weight:400;color:#163d80;letter-spacing:0.246px;">Church Bus</span>
<span style="left:683.40px;top:147.57px;font-size:10px;line-height:13.0px;font-weight:700;color:#22b52f;letter-spacing:0.360px;">$ 45000.00</span>
<span style="left:627.40px;top:173.53px;font-size:7.6px;line-height:9.88px;font-weight:400;color:#163d80;letter-spacing:0.512px;">Microphones</span>
<span style="left:687.50px;top:171.80px;font-size:10px;line-height:13.0px;font-weight:700;color:#123e86;letter-spacing:0.400px;">$ 2000.00</span>
<span style="left:629.80px;top:197.76px;font-size:7.6px;line-height:9.88px;font-weight:400;color:#7a1c9c;letter-spacing:0.300px;">Pulpit</span>
<span style="left:687.50px;top:196.53px;font-size:10px;line-height:13.0px;font-weight:700;color:#6d1390;letter-spacing:0.037px;">$ 1500.00</span>
<span style="left:627.40px;top:222.06px;font-size:7.6px;line-height:9.88px;font-weight:400;color:#4a9ff5;letter-spacing:0.263px;">Bibles</span>
<span style="left:687.50px;top:220.70px;font-size:10px;line-height:13.0px;font-weight:700;color:#2a8ff2;letter-spacing:0.400px;">$ 2000.00</span>
<span style="left:193.70px;top:284.95px;font-size:7px;line-height:9.1px;font-weight:700;color:#0a3b8c;letter-spacing:0.176px;">INCOME &amp; EXPENSES</span>
<span style="left:504.00px;top:286.51px;font-size:5.6px;line-height:7.28px;font-weight:400;color:#1a1a1a;letter-spacing:0.092px;-webkit-text-stroke:0.2px #1a1a1a;">This Month</span>
<span style="left:222.80px;top:323.60px;font-size:8.2px;line-height:10.66px;font-weight:700;color:#13294b;letter-spacing:-0.114px;">Income</span>
<span style="left:227.20px;top:346.92px;font-size:11.5px;line-height:14.95px;font-weight:700;color:#13294b;letter-spacing:-0.079px;">GHC 9,500</span>
<span style="left:229.00px;top:361.56px;font-size:3.4px;line-height:4.42px;font-weight:400;color:#8c8c8c;letter-spacing:0.317px;">decreased income streams</span>
<span style="left:217.60px;top:382.50px;font-size:2.3px;line-height:2.99px;font-weight:700;color:#24bc2e;letter-spacing:-0.233px;">Final Income Budget</span>
<span style="left:257.60px;top:382.50px;font-size:2.3px;line-height:2.99px;font-weight:700;color:#1a2d50;letter-spacing:0.054px;">Last Income received</span>
<span style="left:219.20px;top:392.54px;font-size:5.2px;line-height:6.76px;font-weight:400;color:#4b4b4b;letter-spacing:0.326px;-webkit-text-stroke:0.2px #4b4b4b;">GHC 4500</span>
<span style="left:259.20px;top:392.54px;font-size:5.2px;line-height:6.76px;font-weight:400;color:#4b4b4b;letter-spacing:0.326px;-webkit-text-stroke:0.2px #4b4b4b;">GHC 3700</span>
<span style="left:313.00px;top:358.60px;font-size:12px;line-height:15.6px;font-weight:700;color:#2b5a2b;letter-spacing:-0.253px;">64 %</span>
<span style="left:215.70px;top:424.17px;font-size:2.2px;line-height:2.86px;font-weight:400;color:#9a9a9a;letter-spacing:0.472px;">400</span>
<span style="left:215.70px;top:432.74px;font-size:2.2px;line-height:2.86px;font-weight:400;color:#9a9a9a;letter-spacing:0.472px;">350</span>
<span style="left:215.70px;top:441.32px;font-size:2.2px;line-height:2.86px;font-weight:400;color:#9a9a9a;letter-spacing:0.472px;">300</span>
<span style="left:215.70px;top:449.89px;font-size:2.2px;line-height:2.86px;font-weight:400;color:#9a9a9a;letter-spacing:0.472px;">250</span>
<span style="left:215.70px;top:458.47px;font-size:2.2px;line-height:2.86px;font-weight:400;color:#9a9a9a;letter-spacing:0.472px;">200</span>
<span style="left:215.70px;top:467.04px;font-size:2.2px;line-height:2.86px;font-weight:400;color:#9a9a9a;letter-spacing:0.472px;">150</span>
<span style="left:215.70px;top:475.62px;font-size:2.2px;line-height:2.86px;font-weight:400;color:#9a9a9a;letter-spacing:0.472px;">100</span>
<span style="left:217.10px;top:484.19px;font-size:2.2px;line-height:2.86px;font-weight:400;color:#9a9a9a;letter-spacing:0.762px;">50</span>
<span style="left:218.70px;top:492.77px;font-size:2.2px;line-height:2.86px;font-weight:400;color:#9a9a9a;letter-spacing:0.381px;">0</span>
<span style="left:228.80px;top:497.37px;font-size:2.2px;line-height:2.86px;font-weight:700;color:#4c5a78;letter-spacing:-0.091px;">Jan</span>
<span style="left:240.50px;top:497.37px;font-size:2.2px;line-height:2.86px;font-weight:700;color:#4c5a78;letter-spacing:-0.145px;">Feb</span>
<span style="left:252.20px;top:497.37px;font-size:2.2px;line-height:2.86px;font-weight:700;color:#4c5a78;letter-spacing:-0.145px;">Mar</span>
<span style="left:263.90px;top:497.37px;font-size:2.2px;line-height:2.86px;font-weight:700;color:#4c5a78;letter-spacing:-0.091px;">Apr</span>
<span style="left:275.60px;top:497.37px;font-size:2.2px;line-height:2.86px;font-weight:700;color:#4c5a78;letter-spacing:-0.333px;">May</span>
<span style="left:287.30px;top:497.37px;font-size:2.2px;line-height:2.86px;font-weight:700;color:#4c5a78;letter-spacing:-0.145px;">Jun</span>
<span style="left:299.00px;top:497.37px;font-size:2.2px;line-height:2.86px;font-weight:700;color:#4c5a78;letter-spacing:0.214px;">Jul</span>
<span style="left:310.70px;top:497.37px;font-size:2.2px;line-height:2.86px;font-weight:700;color:#4c5a78;letter-spacing:-0.333px;">Aug</span>
<span style="left:321.90px;top:497.37px;font-size:2.2px;line-height:2.86px;font-weight:700;color:#4c5a78;letter-spacing:-0.050px;">Sept</span>
<span style="left:334.10px;top:497.37px;font-size:2.2px;line-height:2.86px;font-weight:700;color:#4c5a78;letter-spacing:-0.028px;">Oct</span>
<span style="left:345.80px;top:497.37px;font-size:2.2px;line-height:2.86px;font-weight:700;color:#4c5a78;letter-spacing:-0.270px;">Nov</span>
<span style="left:357.50px;top:497.37px;font-size:2.2px;line-height:2.86px;font-weight:700;color:#4c5a78;letter-spacing:-0.208px;">Dec</span>
<span style="left:284.00px;top:507.51px;font-size:3.6px;line-height:4.68px;font-weight:700;color:#13294b;letter-spacing:-0.019px;">Income</span>
<span style="left:409.90px;top:323.60px;font-size:8.2px;line-height:10.66px;font-weight:700;color:#13294b;letter-spacing:-0.119px;">Expenses</span>
<span style="left:414.90px;top:346.92px;font-size:11.5px;line-height:14.95px;font-weight:700;color:#13294b;letter-spacing:-0.192px;">GHC 5420</span>
<span style="left:418.40px;top:363.52px;font-size:3.4px;line-height:4.42px;font-weight:400;color:#8c8c8c;letter-spacing:0.317px;">Increased expenditure</span>
<span style="left:407.60px;top:383.11px;font-size:2.3px;line-height:2.99px;font-weight:700;color:#ff4a4a;letter-spacing:-0.295px;">Final Expense Budget</span>
<span style="left:407.60px;top:386.03px;font-size:1.8px;line-height:2.34px;font-weight:400;color:#ff4a4a;letter-spacing:-0.229px;">Monthly for all church expenditure</span>
<span style="left:449.90px;top:386.03px;font-size:1.8px;line-height:2.34px;font-weight:400;color:#1a2d50;letter-spacing:-0.131px;">Paid for Church Bundles</span>
<span style="left:449.90px;top:383.11px;font-size:2.3px;line-height:2.99px;font-weight:700;color:#1a2d50;letter-spacing:0.072px;">Last Expense</span>
<span style="left:409.20px;top:393.02px;font-size:5.2px;line-height:6.76px;font-weight:400;color:#4b4b4b;letter-spacing:0.326px;-webkit-text-stroke:0.2px #4b4b4b;">GHC 3200</span>
<span style="left:448.70px;top:393.02px;font-size:5.2px;line-height:6.76px;font-weight:400;color:#4b4b4b;letter-spacing:0.326px;-webkit-text-stroke:0.2px #4b4b4b;">GHC 4600</span>
<span style="left:507.60px;top:358.60px;font-size:12px;line-height:15.6px;font-weight:700;color:#8c2828;letter-spacing:-0.216px;">36%</span>
<span style="left:396.50px;top:424.67px;font-size:2.2px;line-height:2.86px;font-weight:400;color:#9a9a9a;letter-spacing:0.472px;">400</span>
<span style="left:396.50px;top:433.24px;font-size:2.2px;line-height:2.86px;font-weight:400;color:#9a9a9a;letter-spacing:0.472px;">350</span>
<span style="left:396.50px;top:441.82px;font-size:2.2px;line-height:2.86px;font-weight:400;color:#9a9a9a;letter-spacing:0.472px;">300</span>
<span style="left:396.50px;top:450.39px;font-size:2.2px;line-height:2.86px;font-weight:400;color:#9a9a9a;letter-spacing:0.472px;">250</span>
<span style="left:396.50px;top:458.97px;font-size:2.2px;line-height:2.86px;font-weight:400;color:#9a9a9a;letter-spacing:0.472px;">200</span>
<span style="left:396.50px;top:467.54px;font-size:2.2px;line-height:2.86px;font-weight:400;color:#9a9a9a;letter-spacing:0.472px;">150</span>
<span style="left:396.50px;top:476.12px;font-size:2.2px;line-height:2.86px;font-weight:400;color:#9a9a9a;letter-spacing:0.472px;">100</span>
<span style="left:397.90px;top:484.69px;font-size:2.2px;line-height:2.86px;font-weight:400;color:#9a9a9a;letter-spacing:0.762px;">50</span>
<span style="left:399.50px;top:493.27px;font-size:2.2px;line-height:2.86px;font-weight:400;color:#9a9a9a;letter-spacing:0.381px;">0</span>
<span style="left:409.60px;top:499.17px;font-size:2.2px;line-height:2.86px;font-weight:700;color:#4c5a78;letter-spacing:-0.091px;">Jan</span>
<span style="left:421.30px;top:499.17px;font-size:2.2px;line-height:2.86px;font-weight:700;color:#4c5a78;letter-spacing:-0.145px;">Feb</span>
<span style="left:433.00px;top:499.17px;font-size:2.2px;line-height:2.86px;font-weight:700;color:#4c5a78;letter-spacing:-0.145px;">Mar</span>
<span style="left:444.70px;top:499.17px;font-size:2.2px;line-height:2.86px;font-weight:700;color:#4c5a78;letter-spacing:-0.091px;">Apr</span>
<span style="left:456.40px;top:499.17px;font-size:2.2px;line-height:2.86px;font-weight:700;color:#4c5a78;letter-spacing:-0.333px;">May</span>
<span style="left:468.10px;top:499.17px;font-size:2.2px;line-height:2.86px;font-weight:700;color:#4c5a78;letter-spacing:-0.145px;">Jun</span>
<span style="left:479.80px;top:499.17px;font-size:2.2px;line-height:2.86px;font-weight:700;color:#4c5a78;letter-spacing:0.214px;">Jul</span>
<span style="left:491.50px;top:499.17px;font-size:2.2px;line-height:2.86px;font-weight:700;color:#4c5a78;letter-spacing:-0.333px;">Aug</span>
<span style="left:502.70px;top:499.17px;font-size:2.2px;line-height:2.86px;font-weight:700;color:#4c5a78;letter-spacing:-0.050px;">Sept</span>
<span style="left:514.90px;top:499.17px;font-size:2.2px;line-height:2.86px;font-weight:700;color:#4c5a78;letter-spacing:-0.028px;">Oct</span>
<span style="left:526.60px;top:499.17px;font-size:2.2px;line-height:2.86px;font-weight:700;color:#4c5a78;letter-spacing:-0.270px;">Nov</span>
<span style="left:538.30px;top:499.17px;font-size:2.2px;line-height:2.86px;font-weight:700;color:#4c5a78;letter-spacing:-0.208px;">Dec</span>
<span style="left:465.50px;top:508.61px;font-size:3.6px;line-height:4.68px;font-weight:700;color:#13294b;letter-spacing:-0.099px;">Expense</span>
<span style="left:628.00px;top:287.26px;font-size:9.6px;line-height:12.48px;font-weight:400;color:#163d80;letter-spacing:0.101px;-webkit-text-stroke:0.3px #163d80;">Recent cashflow</span>
<span style="left:720.60px;top:291.58px;font-size:3.5px;line-height:4.55px;font-weight:700;color:#1b3a70;letter-spacing:-0.207px;">This month</span>
<span style="left:622.60px;top:314.62px;font-size:5.4px;line-height:7.02px;font-weight:400;color:#14213a;letter-spacing:-0.106px;-webkit-text-stroke:0.12px #14213a;">Tithe from <span style="color:#2f8ff0;-webkit-text-stroke:0.1px #2f8ff0">Business A Ltd</span></span>
<span style="left:622.60px;top:321.56px;font-size:4.1px;line-height:5.33px;font-weight:400;color:#b4b4b4;letter-spacing:-0.096px;">5 hours ago &nbsp; | Sent by : Dr. Reynolds</span>
<span style="left:622.60px;top:339.59px;font-size:5.4px;line-height:7.02px;font-weight:400;color:#14213a;letter-spacing:-0.130px;-webkit-text-stroke:0.12px #14213a;">Donation to &nbsp;<span style="color:#2f8ff0;-webkit-text-stroke:0.1px #2f8ff0">Elegant Praise Concert</span></span>
<span style="left:622.60px;top:347.13px;font-size:4.1px;line-height:5.33px;font-weight:400;color:#b4b4b4;letter-spacing:-0.059px;">27th January &nbsp; | Sent by : Anonymous</span>
<span style="left:622.60px;top:364.99px;font-size:5.4px;line-height:7.02px;font-weight:400;color:#14213a;letter-spacing:-0.097px;-webkit-text-stroke:0.12px #14213a;">Church Offering to <span style="color:#2f8ff0;-webkit-text-stroke:0.1px #2f8ff0">Communion Sunday</span></span>
<span style="left:622.60px;top:371.94px;font-size:4.1px;line-height:5.33px;font-weight:400;color:#b4b4b4;letter-spacing:-0.057px;">19th January &nbsp; | &nbsp;Paid by : whole church | Added by : James</span>
<span style="left:622.60px;top:390.59px;font-size:5.4px;line-height:7.02px;font-weight:400;color:#14213a;letter-spacing:-0.072px;-webkit-text-stroke:0.12px #14213a;">Missions Offering</span>
<span style="left:622.60px;top:398.13px;font-size:4.1px;line-height:5.33px;font-weight:400;color:#b4b4b4;letter-spacing:-0.047px;">19th January &nbsp; | &nbsp;Paid by : whole church | Added by : Joe</span>
<span style="left:622.60px;top:414.69px;font-size:5.4px;line-height:7.02px;font-weight:400;color:#14213a;letter-spacing:-0.134px;-webkit-text-stroke:0.12px #14213a;">Donation to &nbsp;THY KINGDOM COME ! &nbsp;event</span>
<span style="left:622.60px;top:421.73px;font-size:4.1px;line-height:5.33px;font-weight:400;color:#b4b4b4;letter-spacing:-0.059px;">27th January &nbsp; | Sent by : Anonymous</span>
<span style="left:622.60px;top:441.62px;font-size:5.4px;line-height:7.02px;font-weight:400;color:#14213a;letter-spacing:-0.070px;-webkit-text-stroke:0.12px #14213a;">Offering for &nbsp;<span style="color:#2f8ff0;-webkit-text-stroke:0.1px #2f8ff0">Alabaster Worship Night</span></span>
<span style="left:622.60px;top:448.23px;font-size:4.1px;line-height:5.33px;font-weight:400;color:#b4b4b4;letter-spacing:-0.049px;">24th January &nbsp; | &nbsp;Paid by : whole church | Added by : Dan</span>
<span style="left:622.60px;top:464.51px;font-size:5.4px;line-height:7.02px;font-weight:400;color:#14213a;letter-spacing:-0.106px;-webkit-text-stroke:0.12px #14213a;">Tithe from <span style="color:#2f8ff0;-webkit-text-stroke:0.1px #2f8ff0">Business A Ltd</span></span>
<span style="left:622.60px;top:471.03px;font-size:4.1px;line-height:5.33px;font-weight:400;color:#b4b4b4;letter-spacing:-0.096px;">5 hours ago &nbsp; | Sent by : Dr. Reynolds</span>
<span style="left:622.60px;top:489.54px;font-size:5.4px;line-height:7.02px;font-weight:400;color:#14213a;letter-spacing:-0.130px;-webkit-text-stroke:0.12px #14213a;">Donation to &nbsp;<span style="color:#2f8ff0;-webkit-text-stroke:0.1px #2f8ff0">Elegant Praise Concert</span></span>
<span style="left:622.60px;top:496.53px;font-size:4.1px;line-height:5.33px;font-weight:400;color:#b4b4b4;letter-spacing:-0.059px;">27th January &nbsp; | Sent by : Anonymous</span>
<span style="left:622.60px;top:514.51px;font-size:5.4px;line-height:7.02px;font-weight:400;color:#14213a;letter-spacing:-0.097px;-webkit-text-stroke:0.12px #14213a;">Church Offering to <span style="color:#2f8ff0;-webkit-text-stroke:0.1px #2f8ff0">Communion Sunday</span></span>
<span style="left:622.60px;top:521.74px;font-size:4.1px;line-height:5.33px;font-weight:400;color:#b4b4b4;letter-spacing:-0.057px;">19th January &nbsp; | &nbsp;Paid by : whole church | Added by : James</span>
</div></body></html>
